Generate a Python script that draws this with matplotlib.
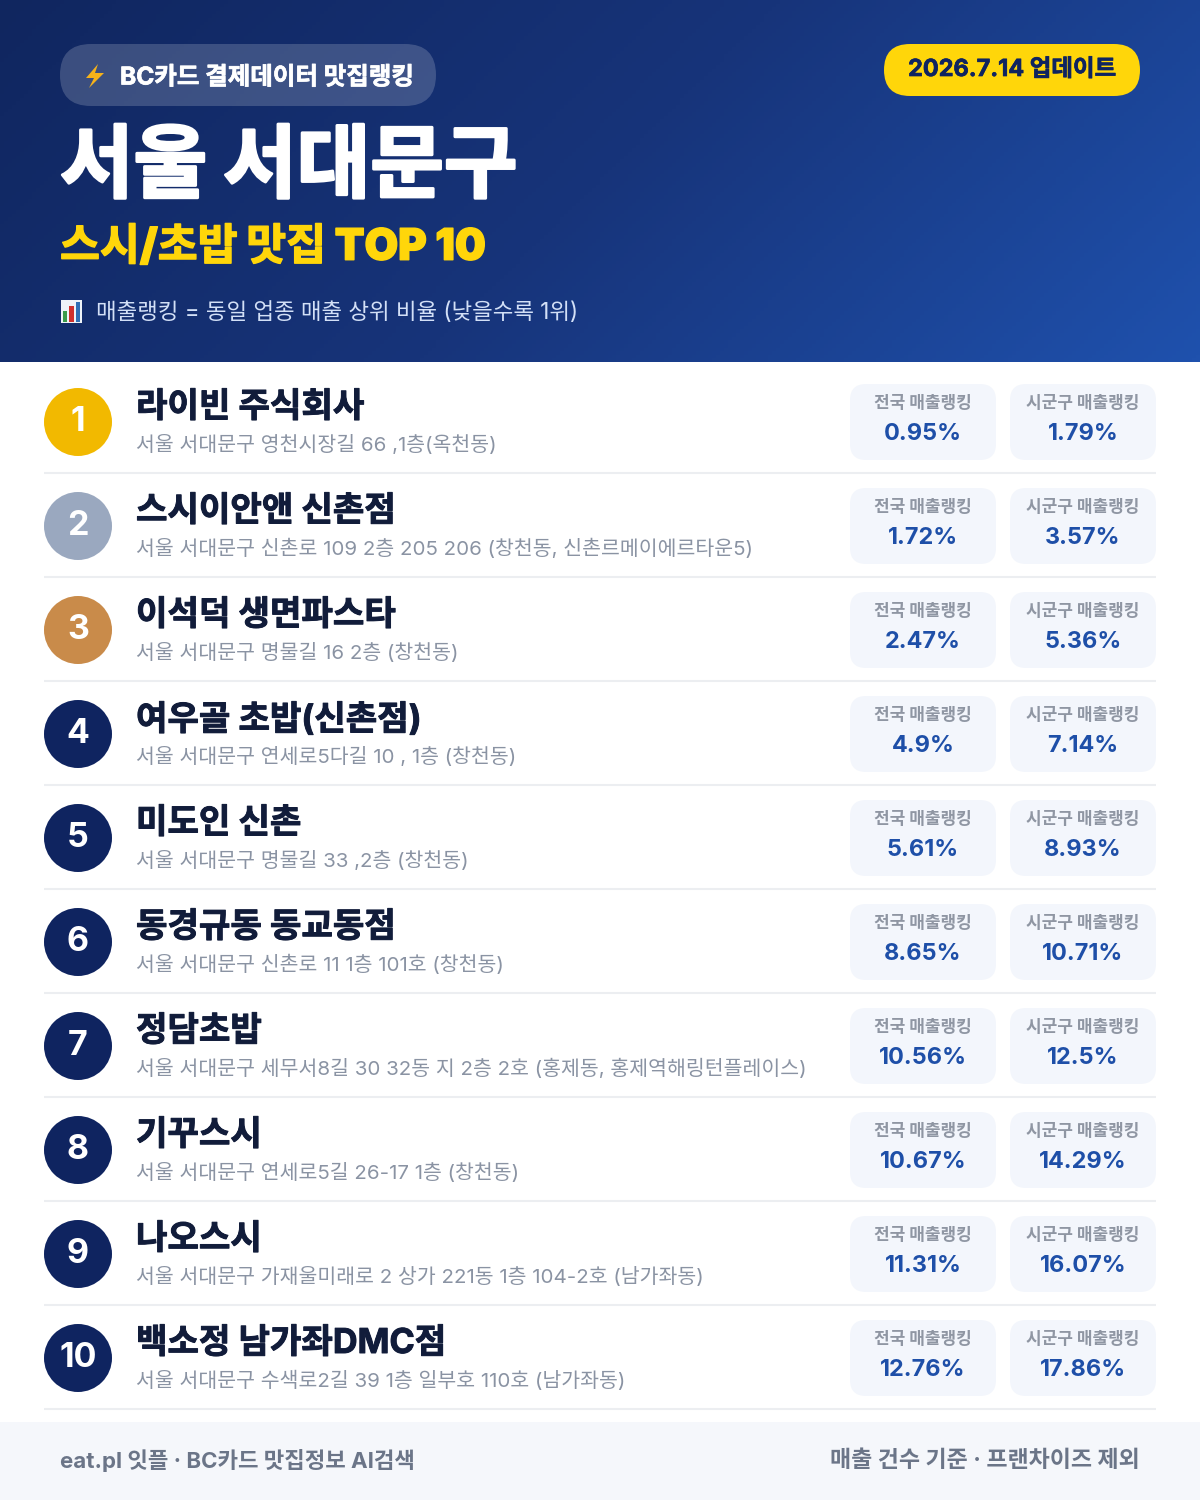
import numpy as np
import matplotlib
matplotlib.use('Agg')
import matplotlib.pyplot as plt
import matplotlib.patheffects as pe
from matplotlib.patches import FancyBboxPatch, Circle, Polygon, Rectangle
from matplotlib.colors import LinearSegmentedColormap

plt.rcParams['font.family'] = ['Inter', 'Noto Sans CJK KR', 'DejaVu Sans']

names = ['라이빈 주식회사', '스시이안앤 신촌점', '이석덕 생면파스타', '여우골 초밥(신촌점)', '미도인 신촌',
         '동경규동 동교동점', '정담초밥', '기꾸스시', '나오스시', '백소정 남가좌DMC점']
addresses = ['서울 서대문구 영천시장길 66 ,1층(옥천동)',
             '서울 서대문구 신촌로 109 2층 205 206 (창천동, 신촌르메이에르타운5)',
             '서울 서대문구 명물길 16 2층 (창천동)',
             '서울 서대문구 연세로5다길 10 , 1층 (창천동)',
             '서울 서대문구 명물길 33 ,2층 (창천동)',
             '서울 서대문구 신촌로 11 1층 101호 (창천동)',
             '서울 서대문구 세무서8길 30 32동 지 2층 2호 (홍제동, 홍제역해링턴플레이스)',
             '서울 서대문구 연세로5길 26-17 1층 (창천동)',
             '서울 서대문구 가재울미래로 2 상가 221동 1층 104-2호 (남가좌동)',
             '서울 서대문구 수색로2길 39 1층 일부호 110호 (남가좌동)']
national = ['0.95%', '1.72%', '2.47%', '4.9%', '5.61%', '8.65%', '10.56%', '10.67%', '11.31%', '12.76%']
district = ['1.79%', '3.57%', '5.36%', '7.14%', '8.93%', '10.71%', '12.5%', '14.29%', '16.07%', '17.86%']
badge_colors = ['#f2b900', '#9aa8bf', '#c98b4a'] + ['#0f2460'] * 7

W, H = 1200, 1500
HEADER_H = 362
ROW_H = 104


def px(size):
    # font size in image pixels -> points at dpi 100
    return size * 0.72


def thick(width, color):
    # the CJK family tops out below the reference's heaviest weight
    return [pe.withStroke(linewidth=width, foreground=color)]


fig = plt.figure(figsize=(12, 15), dpi=100, facecolor='white')
ax = fig.add_axes([0, 0, 1, 1])
ax.set_xlim(0, W)
ax.set_ylim(H, 0)
ax.axis('off')

# header gradient
gx, gy = np.meshgrid(np.linspace(0, 1, 300), np.linspace(0, 1, 100))
grad = (gx * W + gy * HEADER_H) / (W + HEADER_H)
cmap = LinearSegmentedColormap.from_list('hdr', ['#10265f', '#17347a', '#1f51ad'])
ax.imshow(grad, extent=[0, W, HEADER_H, 0], cmap=cmap, aspect='auto', zorder=0)
ax.set_xlim(0, W)
ax.set_ylim(H, 0)


def rbox(x0, y0, x1, y1, r, color, alpha=1.0, z=1):
    ax.add_patch(FancyBboxPatch((x0, y0), x1 - x0, y1 - y0, boxstyle=f'round,pad=0,rounding_size={r}',
                                fc=color, ec='none', alpha=alpha, zorder=z))


# header pills
rbox(60, 44, 436, 106, 31, 'white', alpha=0.18)
ax.add_patch(Polygon([(98, 64), (86, 78), (94, 78), (89, 88), (104, 73), (95, 73)], fc='#f6b21a', ec='none', zorder=3))
ax.text(120, 78, 'BC카드 결제데이터 맛집랭킹', color='white', fontsize=px(24.5), fontweight='bold', va='center', ha='left', zorder=3,
        path_effects=thick(0.5, 'white'))
rbox(884, 44, 1140, 96, 26, '#ffd60a')
ax.text(1012, 70, '2026.7.14 업데이트', color='#0f2460', fontsize=px(23.5), fontweight='bold', va='center', ha='center', zorder=3,
        path_effects=thick(0.5, '#0f2460'))

ax.text(60, 170, '서울 서대문구', color='white', fontsize=px(80), fontweight='black', va='center', ha='left', zorder=3,
        path_effects=thick(2, 'white'))
ax.text(60, 248, '스시/초밥 맛집 TOP 10', color='#ffd60a', fontsize=px(43.4), fontweight='black', va='center', ha='left', zorder=3,
        path_effects=thick(1, '#ffd60a'))

# small chart icon next to the note
ax.add_patch(Rectangle((61, 300), 21, 23, fc='#eef3f8', ec='none', zorder=3))
ax.add_patch(Rectangle((63, 311), 4, 11, fc='#3a9a4a', ec='none', zorder=4))
ax.add_patch(Rectangle((69, 306), 5, 16, fc='#d0312d', ec='none', zorder=4))
ax.add_patch(Rectangle((76, 302), 4, 20, fc='#2f6fb5', ec='none', zorder=4))
ax.text(96, 313, '매출랭킹 = 동일 업종 매출 상위 비율 (낮을수록 1위)', color='#d3e0f7', fontsize=px(22.4), va='center', ha='left', zorder=3)

# restaurant rows
for i in range(len(names)):
    y = ROW_H * i
    ax.add_patch(Circle((78, 422 + y), 34, fc=badge_colors[i], ec='none', zorder=2))
    ax.text(78, 422 + y, str(i + 1), color='white', fontsize=px(34), fontweight='bold', ha='center', va='center', zorder=3)
    ax.text(136, 408 + y, names[i], color='#111c3a', fontsize=px(34.2), fontweight='bold', ha='left', va='center', zorder=3,
            path_effects=thick(0.7, '#111c3a'))
    ax.text(136, 445 + y, addresses[i], color='#8a93a3', fontsize=px(20.5), ha='left', va='center', zorder=3)
    for x0, label, val in [(850, '전국 매출랭킹', national[i]), (1010, '시군구 매출랭킹', district[i])]:
        rbox(x0, 384 + y, x0 + 146, 460 + y, 16, '#f3f6fc')
        ax.text(x0 + 73, 403 + y, label, color='#8f96a3', fontsize=px(17), fontweight='bold', ha='center', va='center', zorder=3)
        ax.text(x0 + 73, 434 + y, val, color='#1e4fa8', fontsize=px(23.5), fontweight='bold', ha='center', va='center', zorder=3)
    ax.plot([44, 1156], [473 + y, 473 + y], color='#eceef1', lw=1.5, solid_capstyle='butt', zorder=1)

# footer
ax.add_patch(Rectangle((0, 1422), W, H - 1422, fc='#f5f7fb', ec='none', zorder=1))
ax.text(60, 1461, 'eat.pl 잇플 · BC카드 맛집정보 AI검색', color='#6b7588', fontsize=px(22.3), fontweight='bold', ha='left', va='center', zorder=3)
ax.text(1140, 1461, '매출 건수 기준 · 프랜차이즈 제외', color='#6b7588', fontsize=px(23), fontweight='bold', ha='right', va='center', zorder=3)

fig.savefig('out.png', dpi=100, facecolor='white')
